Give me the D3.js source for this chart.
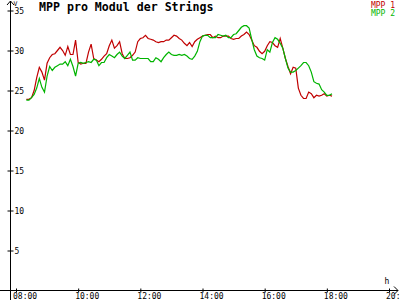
<!DOCTYPE html>
<html>
<head>
<meta charset="utf-8">
<script src="https://cdn.jsdelivr.net/npm/d3@7"></script>
<style>
  body { margin: 0; background: #fff; }
  svg { display: block; font-family: "DejaVu Sans Mono", monospace; }
</style>
</head>
<body>
<svg id="chart" width="400" height="300"></svg>
<script>
// series names and colours
const seriesNames = ["MPP 1", "MPP 2"];
const seriesColors = ["#c00000", "#00b400"];

// samples every 5 minutes, starting at 08:20
const startTime = "08:20";
const stepMinutes = 5;

// MPP 1 (V)
const mpp1 = [
    23.9, 23.9, 24.1, 25.0, 26.6, 27.9, 27.3, 26.3, 28.4, 29.1,
    29.5, 29.6, 30.0, 30.4, 30.0, 29.4, 30.5, 29.5, 29.5, 31.3,
    28.5, 28.3, 28.4, 28.4, 29.8, 30.8, 29.0, 28.8, 28.6, 28.9,
    29.3, 29.6, 30.6, 31.3, 30.3, 30.6, 31.1, 29.6, 29.0, 29.0,
    29.1, 29.4, 29.8, 31.1, 31.5, 31.6, 31.9, 31.5, 31.4, 31.3,
    31.1, 31.0, 31.1, 31.1, 31.3, 31.3, 31.6, 31.9, 31.8, 31.5,
    31.3, 30.9, 30.6, 31.0, 30.5, 31.1, 31.4, 31.6, 31.8, 31.9,
    32.0, 32.0, 31.6, 31.8, 31.6, 31.6, 31.8, 31.8, 31.8, 31.5,
    31.4, 31.5, 31.5, 31.8, 32.0, 32.3, 32.0, 31.3, 30.6, 30.4,
    29.9, 29.6, 29.9, 30.6, 31.1, 31.0, 30.6, 30.4, 31.5, 30.3,
    29.0, 28.0, 27.1, 27.9, 27.8, 25.3, 24.4, 24.0, 24.0, 24.8,
    24.6, 24.1, 24.4, 24.3, 24.4, 24.6, 24.3, 24.4, 24.3
];

// MPP 2 (V)
const mpp2 = [
    23.8, 23.8, 24.1, 24.5, 25.3, 26.5, 25.4, 24.8, 26.8, 28.0,
    27.5, 27.9, 28.1, 28.3, 28.3, 28.6, 28.1, 28.9, 28.0, 26.8,
    28.4, 28.5, 28.4, 28.5, 28.6, 28.5, 28.9, 28.8, 28.1, 28.5,
    28.5, 29.1, 29.5, 29.3, 29.1, 29.5, 29.8, 29.3, 29.0, 29.4,
    29.8, 28.8, 28.8, 29.1, 29.0, 29.0, 29.0, 29.0, 28.6, 28.6,
    29.1, 28.9, 28.6, 29.1, 29.5, 29.8, 29.5, 29.4, 29.4, 29.5,
    29.4, 29.5, 29.3, 29.0, 28.9, 29.3, 29.9, 31.1, 31.8, 31.9,
    31.9, 31.6, 31.6, 31.6, 32.0, 31.9, 31.8, 31.9, 31.6, 31.6,
    32.0, 32.1, 32.5, 32.9, 33.1, 33.1, 32.8, 31.4, 30.1, 29.3,
    29.1, 29.0, 28.8, 30.1, 29.8, 31.0, 31.6, 31.4, 30.9, 30.3,
    29.0, 27.8, 27.3, 27.3, 27.5, 27.8, 28.1, 28.5, 28.5, 28.1,
    27.3, 26.1, 25.9, 25.8, 25.1, 24.8, 24.4, 24.4, 24.6
];

// axis ticks
const xTicks = [8, 10, 12, 14, 16, 18, 20];
const yTicks = [5, 10, 15, 20, 25, 30, 35];

const svg = d3.select("#chart");
const width = +svg.attr("width");
const height = +svg.attr("height");
const axisX = 10.5;   // position of the vertical axis
const axisY = 290.5;  // position of the horizontal axis

// hours of day for every sample
let [sh, sm] = startTime.split(":").map(Number);
let hours = mpp1.map((d, i) => sh + (sm + i * stepMinutes) / 60);

let xScale = d3.scaleLinear()
                .domain([8, 20])
                .range([16, 389]);

let yScale = d3.scaleLinear()
                .domain([0, 35])
                .range([axisY, 10.5]);

// x axis
let xAxis = d3.axisBottom(xScale)
                .tickValues(xTicks)
                .tickSize(2)
                .tickFormat(d => d3.format("02d")(d) + ":00");

let gx = svg.append("g")
    .attr("transform", `translate(0,${axisY})`)
    .call(xAxis);
gx.select(".domain").remove();
gx.selectAll(".tick line").attr("y1", -2).attr("stroke", "#000");
gx.selectAll(".tick text")
    .attr("x", -3.5)
    .attr("y", 8.5)
    .attr("dy", null)
    .attr("text-anchor", "start")
    .attr("font-size", 8)
    .attr("font-family", "DejaVu Sans Mono")
    .attr("fill", "#000");

// y axis, labels on the right side of the line
let yAxis = d3.axisRight(yScale)
                .tickValues(yTicks)
                .tickSize(3);

let gy = svg.append("g")
    .attr("transform", `translate(${axisX},0)`)
    .call(yAxis);
gy.select(".domain").remove();
gy.selectAll(".tick line").attr("x1", -3).attr("stroke", "#000");
gy.selectAll(".tick text")
    .attr("x", 4)
    .attr("dy", "0.35em")
    .attr("font-size", 8)
    .attr("font-family", "DejaVu Sans Mono")
    .attr("fill", "#000");

// axis lines with arrow heads
svg.append("line")
    .attr("x1", axisX).attr("x2", axisX)
    .attr("y1", 1).attr("y2", height)
    .attr("stroke", "#000");
svg.append("path")
    .attr("d", `M${axisX - 3.5},5 L${axisX},1 L${axisX + 3.5},5`)
    .attr("fill", "none")
    .attr("stroke", "#000");
svg.append("line")
    .attr("x1", 0).attr("x2", width - 2)
    .attr("y1", axisY).attr("y2", axisY)
    .attr("stroke", "#000");
svg.append("path")
    .attr("d", `M${width - 6},${axisY - 4} L${width - 2},${axisY} L${width - 6},${axisY + 4}`)
    .attr("fill", "none")
    .attr("stroke", "#000");

// unit labels
svg.append("text")
    .attr("x", 13.5)
    .attr("y", 5.5)
    .attr("font-size", 6.5)
    .text("V");
svg.append("text")
    .attr("x", 384.5)
    .attr("y", 284)
    .attr("font-size", 8)
    .text("h");

// title
svg.append("text")
    .attr("x", 39)
    .attr("y", 11)
    .attr("font-size", 11.6)
    .attr("font-weight", "bold")
    .text("MPP pro Modul der Strings");

// legend
seriesNames.forEach((name, i) => {
    svg.append("text")
        .attr("x", 395)
        .attr("y", 8 + i * 7.5)
        .attr("text-anchor", "end")
        .attr("font-size", 8)
        .attr("fill", seriesColors[i])
        .text(name);
});

// lines
let line = d3.line()
    .x((d, i) => xScale(hours[i]))
    .y(d => yScale(d));

[mpp1, mpp2].forEach((values, i) => {
    svg.append("path")
        .datum(values)
        .attr("fill", "none")
        .attr("stroke", seriesColors[i])
        .attr("stroke-width", 1.2)
        .attr("d", line);
});
</script>
</body>
</html>
